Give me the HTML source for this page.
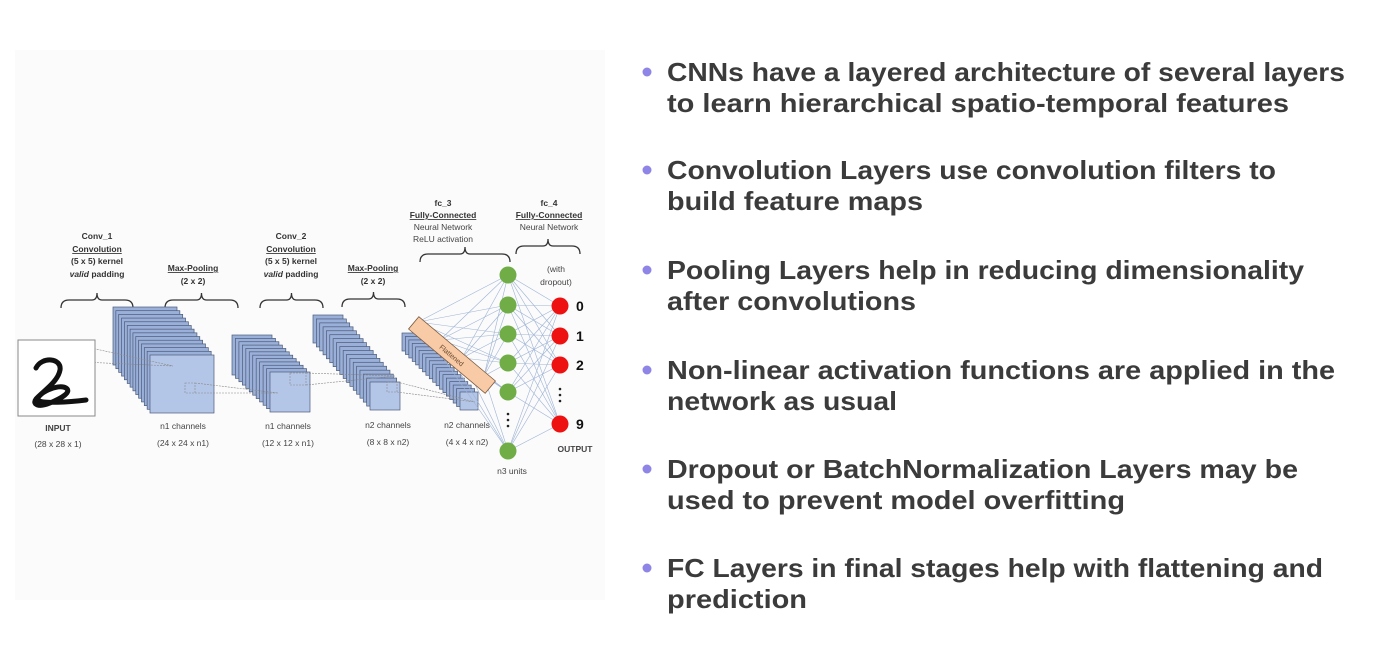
<!DOCTYPE html>
<html><head><meta charset="utf-8"><style>
html,body{margin:0;padding:0;background:#fff;width:1385px;height:648px;overflow:hidden}
svg{display:block}
.t{font-family:"Liberation Sans",sans-serif}
.b{font-family:"Liberation Sans",sans-serif;font-weight:bold;font-size:26px;fill:#3b3b3b}
</style></head><body>
<svg id="s" width="1385" height="648" viewBox="0 0 1385 648" xmlns="http://www.w3.org/2000/svg">
<rect x="15" y="50" width="590" height="550" fill="#fbfbfb"/>
<g id="dia"></g>
<!-- input -->
<rect x="18" y="340" width="77" height="76" fill="#fff" stroke="#888" stroke-width="1"/>
<path d="M36 368 C42 356,62 358,60 370 C58 382,42 392,36 399 C32 404,38 408,50 403 C62 398,72 392,66 388 C58 383,36 394,38 400 C42 404,70 402,86 400" fill="none" stroke="#111" stroke-width="5" stroke-linecap="round"/>
<g class="t" font-size="8.5" fill="#444" text-anchor="middle">
<text x="58" y="431" font-weight="bold">INPUT</text>
<text x="58" y="447">(28 x 28 x 1)</text>
<text x="183" y="429">n1 channels</text><text x="183" y="446">(24 x 24 x n1)</text>
<text x="288" y="429">n1 channels</text><text x="288" y="446">(12 x 12 x n1)</text>
<text x="388" y="428">n2 channels</text><text x="388" y="445">(8 x 8 x n2)</text>
<text x="467" y="428">n2 channels</text><text x="467" y="445">(4 x 4 x n2)</text>
<text x="512" y="474">n3 units</text>
<text x="575" y="452" font-weight="bold">OUTPUT</text>
<g font-weight="bold" fill="#333">
<text x="97" y="239">Conv_1</text><text x="97" y="252" text-decoration="underline">Convolution</text><text x="97" y="264">(5 x 5) kernel</text><text x="97" y="277"><tspan font-style="italic">valid</tspan> padding</text>
<text x="193" y="271" text-decoration="underline">Max-Pooling</text><text x="193" y="284">(2 x 2)</text>
<text x="291" y="239">Conv_2</text><text x="291" y="252" text-decoration="underline">Convolution</text><text x="291" y="264">(5 x 5) kernel</text><text x="291" y="277"><tspan font-style="italic">valid</tspan> padding</text>
<text x="373" y="271" text-decoration="underline">Max-Pooling</text><text x="373" y="284">(2 x 2)</text>
<text x="443" y="206">fc_3</text><text x="443" y="218" text-decoration="underline">Fully-Connected</text>
<text x="549" y="206">fc_4</text><text x="549" y="218" text-decoration="underline">Fully-Connected</text>
</g>
<text x="443" y="230">Neural Network</text><text x="443" y="242">ReLU activation</text>
<text x="549" y="230">Neural Network</text>
<text x="556" y="272">(with</text><text x="556" y="285">dropout)</text>
</g>
<g class="t" font-size="14" font-weight="bold" fill="#111">
<text x="576" y="311">0</text><text x="576" y="341">1</text><text x="576" y="370">2</text><text x="576" y="429">9</text>
</g>
<g fill="#222"><circle cx="560" cy="389" r="1.3"/><circle cx="560" cy="395" r="1.3"/><circle cx="560" cy="401" r="1.3"/>
<circle cx="508" cy="414" r="1.3"/><circle cx="508" cy="420" r="1.3"/><circle cx="508" cy="426" r="1.3"/></g>
<!-- bullets -->
<g fill="#8f85e6">
<circle cx="647" cy="72" r="4.5"/><circle cx="647" cy="170" r="4.5"/><circle cx="647" cy="270" r="4.5"/><circle cx="647" cy="370" r="4.5"/><circle cx="647" cy="469" r="4.5"/><circle cx="647" cy="568" r="4.5"/>
</g>
<g class="b">
<text x="667" y="81" textLength="678" lengthAdjust="spacingAndGlyphs">CNNs have a layered architecture of several layers</text>
<text x="667" y="112" textLength="622" lengthAdjust="spacingAndGlyphs">to learn hierarchical spatio-temporal features</text>
<text x="667" y="179" textLength="609" lengthAdjust="spacingAndGlyphs">Convolution Layers use convolution filters to</text>
<text x="667" y="210" textLength="256" lengthAdjust="spacingAndGlyphs">build feature maps</text>
<text x="667" y="279" textLength="637" lengthAdjust="spacingAndGlyphs">Pooling Layers help in reducing dimensionality</text>
<text x="667" y="310" textLength="249" lengthAdjust="spacingAndGlyphs">after convolutions</text>
<text x="667" y="379" textLength="668" lengthAdjust="spacingAndGlyphs">Non-linear activation functions are applied in the</text>
<text x="667" y="410" textLength="230" lengthAdjust="spacingAndGlyphs">network as usual</text>
<text x="667" y="478" textLength="631" lengthAdjust="spacingAndGlyphs">Dropout or BatchNormalization Layers may be</text>
<text x="667" y="509" textLength="458" lengthAdjust="spacingAndGlyphs">used to prevent model overfitting</text>
<text x="667" y="577" textLength="656" lengthAdjust="spacingAndGlyphs">FC Layers in final stages help with flattening and</text>
<text x="667" y="608" textLength="140" lengthAdjust="spacingAndGlyphs">prediction</text>
</g>
</svg>
<script>
var NS="http://www.w3.org/2000/svg",g=document.getElementById("dia");
function el(n,a){var e=document.createElementNS(NS,n);for(var k in a)e.setAttribute(k,a[k]);g.appendChild(e);return e;}
function brace(x1,x2,y){var m=(x1+x2)/2;el("path",{d:"M"+x1+" "+(y+8)+" Q"+x1+" "+y+" "+(x1+8)+" "+y+" L"+(m-5)+" "+y+" Q"+m+" "+y+" "+m+" "+(y-7)+" Q"+m+" "+y+" "+(m+5)+" "+y+" L"+(x2-8)+" "+y+" Q"+x2+" "+y+" "+x2+" "+(y+8),fill:"none",stroke:"#333","stroke-width":1.3});}
brace(61,133,300);brace(165,238,300);brace(260,323,300);brace(342,405,299);brace(420,510,254);brace(516,580,246);
function stack(bx,by,fx,fy,w,h,n){for(var i=0;i<n;i++){var t=i/(n-1),x=bx+(fx-bx)*t,y=by+(fy-by)*t;el("rect",{x:x,y:y,width:w,height:h,fill:i==n-1?"#b4c6e7":"#9bb0d8",stroke:"#4a5a7a","stroke-width":0.7});}}
stack(113,307,150,355,64,58,14);
stack(232,335,270,372,40,40,12);
stack(313,315,370,382,30,28,18);
stack(402,333,460,392,18,18,18);
var d={fill:"none",stroke:"#888","stroke-width":0.6,"stroke-dasharray":"2,1"};
el("rect",Object.assign({x:66,y:346,width:16,height:16},d));
el("path",Object.assign({d:"M82 346 L173 366 M82 362 L173 366"},d));
el("rect",Object.assign({x:185,y:383,width:10,height:10},d));
el("path",Object.assign({d:"M195 383 L278 393 M195 393 L278 393"},d));
el("rect",Object.assign({x:290,y:373,width:16,height:12},d));
el("path",Object.assign({d:"M306 373 L395 376 M306 385 L395 376"},d));
el("rect",Object.assign({x:387,y:382,width:10,height:10},d));
el("path",Object.assign({d:"M397 382 L475 402 M397 392 L475 402"},d));
var gy=[275,305,334,363,392,451],ry=[306,336,365,424];
var fl=[[418,322],[440,340],[462,358],[484,376]];
fl.forEach(function(p){gy.forEach(function(y){el("line",{x1:p[0],y1:p[1],x2:508,y2:y,stroke:"#9fb4d6","stroke-width":0.6});});});
gy.forEach(function(a){ry.forEach(function(b){el("line",{x1:508,y1:a,x2:560,y2:b,stroke:"#9fb4d6","stroke-width":0.6});});});
var fb=el("g",{transform:"translate(452,355) rotate(40)"});
var r=document.createElementNS(NS,"rect");r.setAttribute("x",-50);r.setAttribute("y",-8);r.setAttribute("width",100);r.setAttribute("height",16);r.setAttribute("fill","#f8cba6");r.setAttribute("stroke","#7a5a40");r.setAttribute("stroke-width",0.8);fb.appendChild(r);
var tx=document.createElementNS(NS,"text");tx.setAttribute("x",0);tx.setAttribute("y",3);tx.setAttribute("text-anchor","middle");tx.setAttribute("font-size","7");tx.setAttribute("font-family","Liberation Sans, sans-serif");tx.setAttribute("fill","#6a4a30");tx.textContent="Flattened";fb.appendChild(tx);
gy.forEach(function(y){el("circle",{cx:508,cy:y,r:8.5,fill:"#70ad47"});});
ry.forEach(function(y){el("circle",{cx:560,cy:y,r:8.5,fill:"#ee1111"});});
</script>
</body></html>
